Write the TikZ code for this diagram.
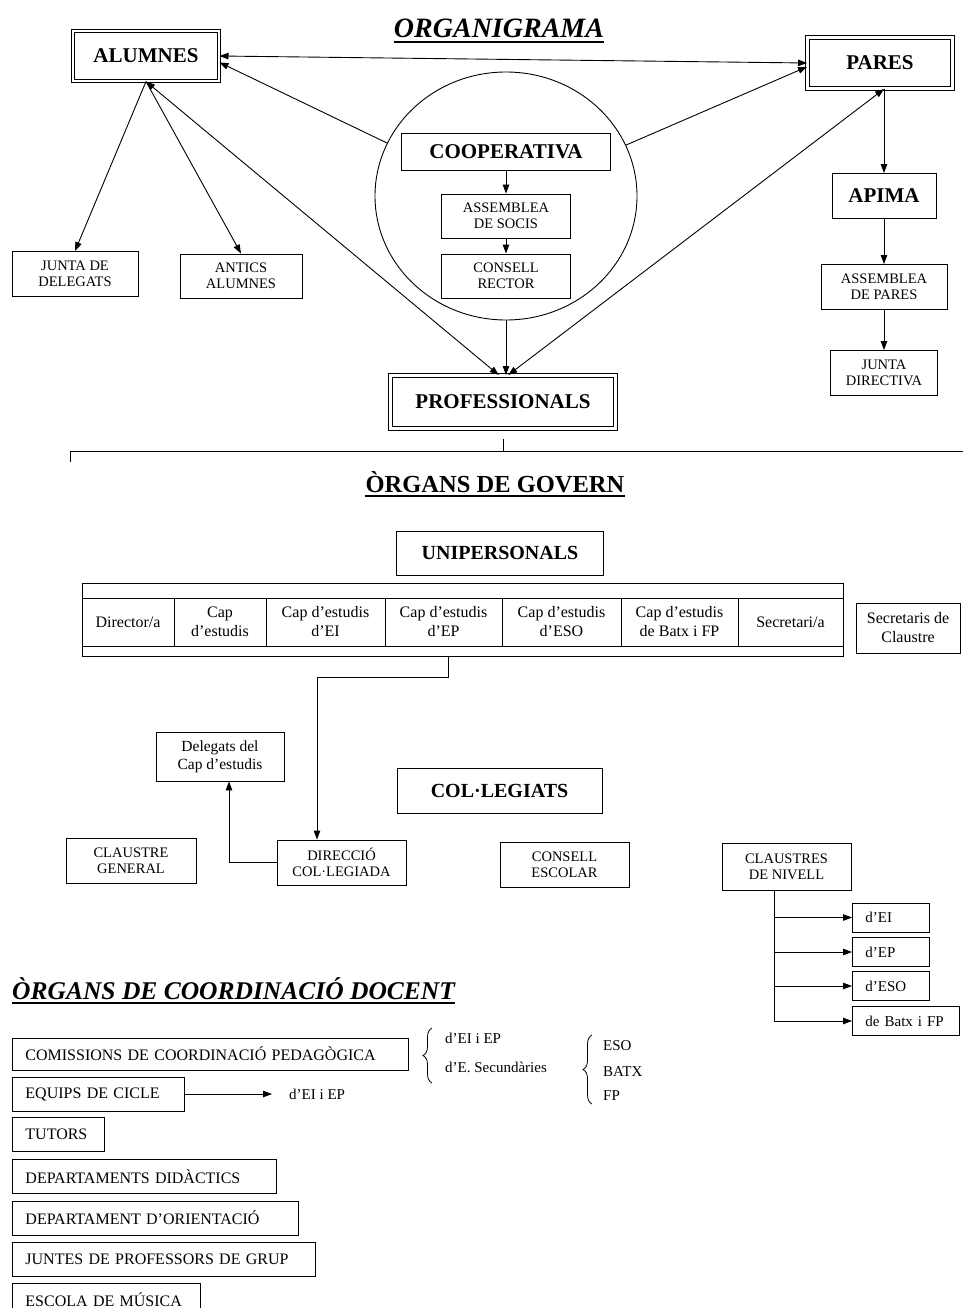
\documentclass[tikz,border=0pt]{standalone}
\usepackage{fontspec}
\setmainfont{Liberation Serif}
\usepackage{tikz}
\usetikzlibrary{positioning,arrows.meta,calc,shapes.geometric,decorations.pathreplacing}
\newcommand{\setfs}[2]{\fontsize{#1}{#2}\selectfont}
\tikzset{
  base/.style    ={draw, line width=0.9pt, align=center, inner sep=2pt, text=black},
  mainbox/.style ={base, double, double distance=2.4pt, line width=1pt,
                   font=\bfseries\setfs{21}{24}},
  headbox/.style ={base, font=\bfseries\setfs{21}{24}},
  smallbox/.style={base, font=\setfs{14.5}{16}},
  cellbox/.style ={base, font=\setfs{16}{19}},
  lvlbox/.style  ={base, anchor=west, align=left, inner xsep=13pt, font=\setfs{15}{18}},
  cbox/.style    ={base, anchor=west, align=left, inner xsep=13pt, minimum height=34,
                   font=\setfs{16}{18}},
  plain/.style   ={inner sep=0pt, font=\setfs{15}{18}},
  ttl/.style     ={inner sep=0pt, font=\bfseries\itshape\setfs{28}{30}},
  uline/.style   ={line width=1.6pt},
  arr/.style     ={-{Triangle[length=9pt,width=6.5pt]}, line width=0.9pt},
  dbl/.style     ={{Triangle[length=9pt,width=6.5pt]}-{Triangle[length=9pt,width=6.5pt]},
                   line width=0.9pt},
  brc/.style     ={decorate, decoration={brace, amplitude=9pt}, line width=0.8pt},
}

\begin{document}
\begin{tikzpicture}[x=1pt,y=-1pt]
  \useasboundingbox (0,0) rectangle (963,1308);

  % ===== ORGANIGRAMA =====
  \node[ttl, anchor=base] (orgttl) at (499,38) {ORGANIGRAMA};
  \draw[uline] ([yshift=-4pt]orgttl.base west) -- ([yshift=-4pt]orgttl.base east);

  % ---- three main groups ----
  \node[mainbox, minimum width=146, minimum height=50] (alumnes) at (146,56) {ALUMNES};
  \node[mainbox, minimum width=145, minimum height=51] (pares) at (880,63) {PARES};
  \node[mainbox, minimum width=225, minimum height=53] (prof) at (503,402) {PROFESSIONALS};

  % ---- cooperativa (inside the circle) ----
  \node[ellipse, draw, line width=0.9pt, minimum width=262, minimum height=248] (coopcirc) at (506,196) {};
  \node[headbox, minimum width=209, minimum height=37] (coop) at (506,152) {COOPERATIVA};
  \node[smallbox, minimum width=129, minimum height=44] (assoc) at (506,216) {ASSEMBLEA\\DE SOCIS};
  \node[smallbox, minimum width=129, minimum height=44] (crector) at (506,276) {CONSELL\\RECTOR};

  % ---- alumnes side ----
  \node[smallbox, minimum width=126, minimum height=45] (jdel) at (75,274) {JUNTA DE\\DELEGATS};
  \node[smallbox, minimum width=122, minimum height=44] (antics) at (241,276) {ANTICS\\ALUMNES};

  % ---- pares side ----
  \node[headbox, minimum width=104, minimum height=45] (apima) at (884,196) {APIMA};
  \node[smallbox, minimum width=126, minimum height=45] (aspares) at (884,287) {ASSEMBLEA\\DE PARES};
  \node[smallbox, minimum width=107, minimum height=45] (jdir) at (884,373) {JUNTA\\DIRECTIVA};

  % ===== top edges =====
  \draw[dbl] (alumnes.east) -- (pares.west);
  \draw[arr] (coopcirc.156) -- (alumnes.-5);
  \draw[arr] (coopcirc.23) -- (pares.183);
  \draw[arr] (alumnes.south) -- (jdel.north);
  \draw[arr] (alumnes.south) -- (antics.north);
  \draw[dbl] (alumnes.south) -- (prof.99);
  \draw[dbl] (apima.north |- pares.south) -- (prof.79);
  \draw[arr] (coopcirc.south) -- (coopcirc.south |- prof.north);
  \draw[arr] (coop.south) -- (assoc.north);
  \draw[arr] (assoc.south) -- (crector.north);
  \draw[arr] (apima.north |- pares.south) -- (apima.north);
  \draw[arr] (apima.south) -- (aspares.north);
  \draw[arr] (aspares.south) -- (jdir.north);

  % ---- split line under PROFESSIONALS ----
  \coordinate (splitL) at (70,451);
  \coordinate (splitR) at (963,451);
  \draw[line width=0.9pt] ([yshift=-11pt]splitL) -- (splitL) -- (splitR);
  \draw[line width=0.9pt] ([yshift=-10pt]prof.south) -- (prof.south |- splitL);

  % ===== ORGANS DE GOVERN =====
  \node[inner sep=0pt, font=\bfseries\setfs{24.5}{26}, anchor=base] (govttl) at (495,492) {ÒRGANS DE GOVERN};
  \draw[uline] ([yshift=-4pt]govttl.base west) -- ([yshift=-4pt]govttl.base east);

  \node[headbox, font=\bfseries\setfs{20}{22}, minimum width=207, minimum height=44] (unip) at (500,553) {UNIPERSONALS};

  % ---- unipersonal table ----
  \node[base, minimum width=761, minimum height=73] (unitab) at (462.5,619.5) {};
  \node[cellbox, minimum width=92, minimum height=48]  (dir)    at (128,622)   {Director/a};
  \node[cellbox, minimum width=92, minimum height=48]  (cap)    at (220,622)   {Cap\\d’estudis};
  \node[cellbox, minimum width=119, minimum height=48] (capEI)  at (325.5,622) {Cap d’estudis\\d’EI};
  \node[cellbox, minimum width=117, minimum height=48] (capEP)  at (443.5,622) {Cap d’estudis\\d’EP};
  \node[cellbox, minimum width=119, minimum height=48] (capESO) at (561.5,622) {Cap d’estudis\\d’ESO};
  \node[cellbox, minimum width=117, minimum height=48] (capBFP) at (679.5,622) {Cap d’estudis\\de Batx i FP};
  \node[cellbox, minimum width=105, minimum height=48] (secr)   at (790.5,622) {Secretari/a};
  \node[cellbox, minimum width=104, minimum height=50] (secclau) at (908,628) {Secretaris de\\Claustre};

  % ---- col.legiats ----
  \node[headbox, font=\bfseries\setfs{20}{22}, minimum width=205, minimum height=45] (colleg) at (499.5,790.5) {COL·LEGIATS};
  \node[cellbox, font=\setfs{15.5}{18}, minimum width=128, minimum height=49] (delcap) at (220,756.5) {Delegats del\\Cap d’estudis};
  \node[smallbox, minimum width=130, minimum height=45] (clgen) at (131,860.5) {CLAUSTRE\\GENERAL};
  \node[smallbox, minimum width=129, minimum height=45] (dircol) at (341.5,862.5) {DIRECCIÓ\\COL·LEGIADA};
  \node[smallbox, minimum width=129, minimum height=45] (consesc) at (564.5,864.5) {CONSELL\\ESCOLAR};
  \node[smallbox, minimum width=129, minimum height=47] (clniv) at (786.5,866.5) {CLAUSTRES\\DE NIVELL};

  % ---- claustres de nivell ----
  \node[lvlbox, text width=51, minimum height=29] (nivEI)  at (852,917.5) {d’EI};
  \node[lvlbox, text width=51, minimum height=29] (nivEP)  at (852,952)   {d’EP};
  \node[lvlbox, text width=51, minimum height=29] (nivESO) at (852,986)   {d’ESO};
  \node[lvlbox, text width=81, minimum height=29] (nivBFP) at (852,1021)  {de Batx i FP};

  % ===== govern edges =====
  \coordinate (bend) at (317,677);
  \draw[arr] ([xshift=5pt]capEP.south |- unitab.south) -- ([xshift=5pt]capEP.south |- bend)
    -| (dircol.north -| bend);
  \draw[arr] (dircol.west) -| ([xshift=9pt]delcap.south);
  \coordinate (trunk) at ([xshift=-12.5pt]clniv.south);
  \draw[arr] (trunk) |- (nivBFP.west);
  \foreach \b in {nivEI,nivEP,nivESO}
    \draw[arr] (trunk |- \b.west) -- (\b.west);

  % ===== ORGANS DE COORDINACIO DOCENT =====
  \node[ttl, font=\bfseries\itshape\setfs{25.5}{27}, anchor=base west] (cordttl) at (12,999) {ÒRGANS DE COORDINACIÓ DOCENT};
  \draw[uline] ([yshift=-4pt]cordttl.base west) -- ([yshift=-4pt]cordttl.base east);

  \node[cbox, text width=370, minimum height=32] (comis) at (12,1054) {COMISSIONS DE COORDINACIÓ PEDAGÒGICA};
  \node[cbox, text width=146] (equips) at (12,1094) {EQUIPS DE CICLE};
  \node[cbox, text width=66]  (tutors) at (12,1134) {TUTORS};
  \node[cbox, text width=238] (depdid) at (12,1176.5) {DEPARTAMENTS DIDÀCTICS};
  \node[cbox, text width=260] (depori) at (12,1218) {DEPARTAMENT D’ORIENTACIÓ};
  \node[cbox, text width=277] (juntes) at (12,1259) {JUNTES DE PROFESSORS DE GRUP};
  \node[cbox, text width=162] (escola) at (12,1300) {ESCOLA DE MÚSICA};

  % ---- comissions branches ----
  \node[plain, anchor=west] (cEIEP) at (445,1038) {d’EI i EP};
  \node[plain, anchor=west] (cSec)  at (445,1067) {d’E. Secundàries};
  \node[plain, anchor=west] (sESO)  at (603,1046) {ESO};
  \node[plain, anchor=west] (sBATX) at (603,1072) {BATX};
  \node[plain, anchor=west] (sFP)   at (603,1096) {FP};
  \coordinate (brAbot) at (432,1083);
  \coordinate (brAtop) at (432,1028);
  \coordinate (brBbot) at (592,1104);
  \coordinate (brBtop) at (592,1035);
  \draw[brc] (brAbot) -- (brAtop);
  \draw[brc] (brBbot) -- (brBtop);

  % ---- equips de cicle ----
  \node[plain, anchor=west] (eqEIEP) at (289,1094) {d’EI i EP};
  \draw[arr] (equips.east) -- ([xshift=-17pt]eqEIEP.west);

\end{tikzpicture}
\end{document}
